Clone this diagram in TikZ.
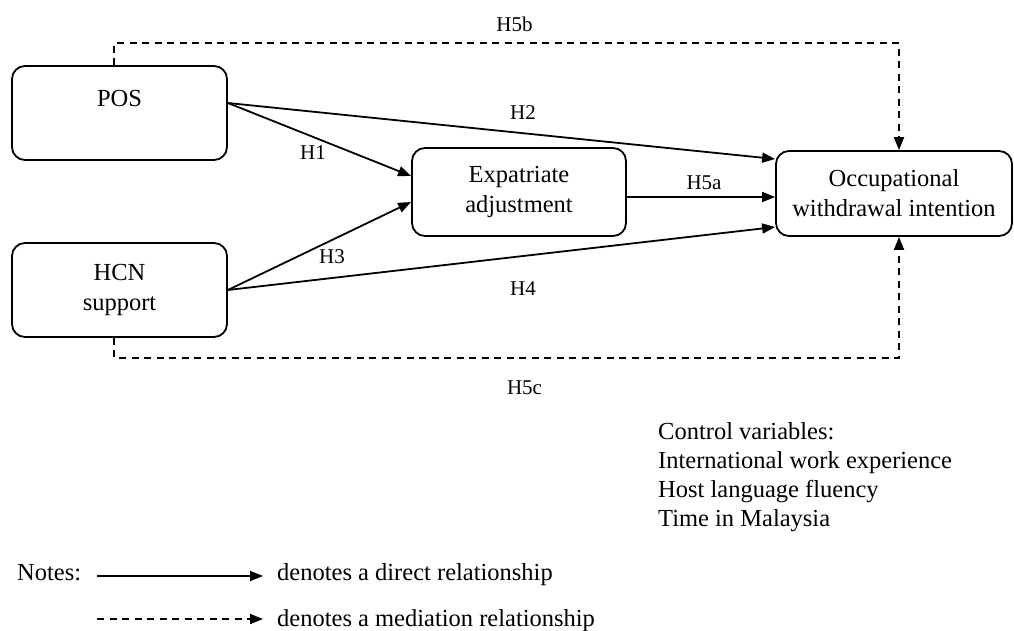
\documentclass[tikz,border=0pt]{standalone}
\usepackage{fontspec}
\setmainfont{Liberation Serif}
\usetikzlibrary{arrows.meta}

\begin{document}
\begin{tikzpicture}[x=1pt, y=-1pt,
    box/.style={draw, line width=1.8pt, rounded corners=13pt, align=center, inner sep=0pt, font=\fontsize{24.5}{30}\selectfont},
    hyp/.style={font=\fontsize{21}{24}\selectfont, inner sep=0pt},
    plain/.style={font=\fontsize{24.5}{29}\selectfont, inner sep=0pt},
    direct/.style={line width=1.8pt, -{Triangle[length=13pt,width=10pt]}},
    mediate/.style={direct, dash pattern=on 7pt off 5.5pt}]
      \useasboundingbox (0,0) rectangle (1014,631);

      \node[box, minimum width=215pt, minimum height=94pt] (pos) at (119.5,113) {POS\\\mbox{}};
      \node[box, minimum width=215pt, minimum height=94pt] (hcn) at (119.5,290) {HCN\\support};
      \node[box, minimum width=214pt, minimum height=88pt] (exp) at (519,192) {Expatriate\\adjustment};
      \node[box, minimum width=236pt, minimum height=85pt] (owi) at (894,193.5) {Occupational\\withdrawal intention};

      \draw[direct] ([yshift=10pt]pos.east) -- ([yshift=16pt]exp.west);
      \draw[direct] ([yshift=10pt]pos.east) -- ([yshift=34.5pt]owi.west);
      \draw[direct] (hcn.east) -- ([yshift=-10pt]exp.west);
      \draw[direct] (hcn.east) -- ([yshift=-33.5pt]owi.west);
      \draw[direct] ([yshift=-5pt]exp.east) -- ([yshift=-3.5pt]owi.west);
      \draw[mediate] ([xshift=-5.5pt]pos.north) -- ++(0,-22) -| ([xshift=5pt]owi.north);
      \draw[mediate] ([xshift=-5.5pt]hcn.south) -- ++(0,20) -| ([xshift=5pt]owi.south);

      \node[hyp] (h1) at (313,152.5) {H1};
      \node[hyp] (h2) at (523,112.5) {H2};
      \node[hyp] (h3) at (332,257) {H3};
      \node[hyp] (h4) at (523,288.5) {H4};
      \node[hyp] (h5a) at (704,182.5) {H5a};
      \node[hyp] (h5b) at (514.5,24) {H5b};
      \node[hyp] (h5c) at (524.5,388) {H5c};

      \node[plain, align=left, anchor=base west] (ctrl) at (658,526) {Control variables:\\International work experience\\Host language fluency\\Time in Malaysia};

      \node[plain, anchor=base west] (notes) at (17,580) {Notes:};
      \node[plain, anchor=base west] (dirtxt) at (277,580) {denotes a direct relationship};
      \node[plain, anchor=base west] (medtxt) at (277,626) {denotes a mediation relationship};
      \coordinate (d0) at (97,576);
      \coordinate (d1) at (263,576);
      \coordinate (m0) at (97,619);
      \coordinate (m1) at (263,619);
      \draw[direct] (d0) -- (d1);
      \draw[mediate] (m0) -- (m1);

    \end{tikzpicture}
\end{document}
